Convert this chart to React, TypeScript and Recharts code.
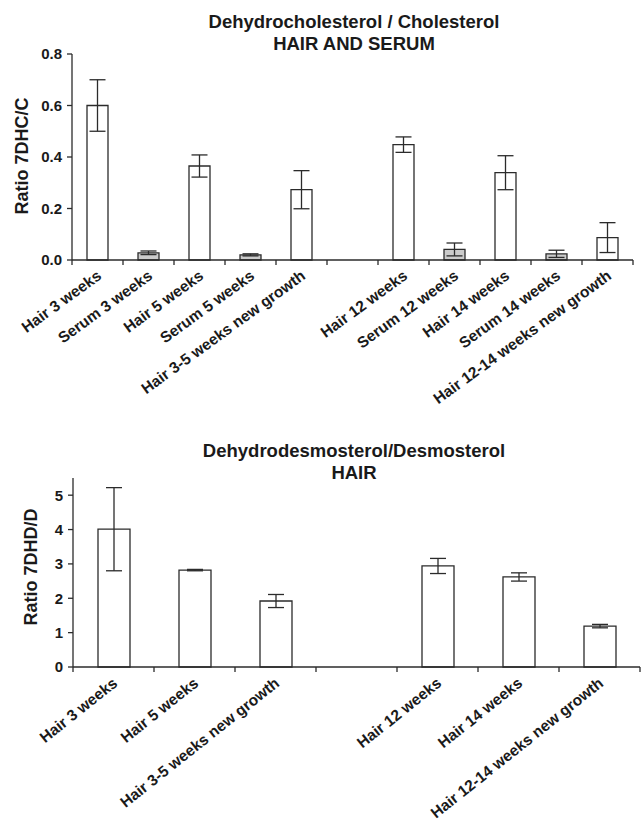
import { BarChart, Bar, XAxis, YAxis, ErrorBar, Cell } from "recharts";

const FONT = '"Liberation Sans", Arial, sans-serif';
const INK = "#2b2b2b";

// Panel 1: 7DHC / C, hair and serum (blank category = gap between time groups)
const CATS_1 = [
  "Hair 3 weeks",
  "Serum 3 weeks",
  "Hair 5 weeks",
  "Serum 5 weeks",
  "Hair 3-5 weeks new growth",
  "",
  "Hair 12 weeks",
  "Serum 12 weeks",
  "Hair 14 weeks",
  "Serum 14 weeks",
  "Hair 12-14 weeks new growth",
];
const VALUES_1 = [0.6, 0.028, 0.365, 0.02, 0.273, null, 0.448, 0.041, 0.339, 0.024, 0.087];
const ERRORS_1 = [0.1, 0.007, 0.043, 0.004, 0.074, null, 0.03, 0.025, 0.066, 0.014, 0.058];
const KINDS_1 = ["hair", "serum", "hair", "serum", "hair", "gap", "hair", "serum", "hair", "serum", "hair"];
const Y_TICKS_1 = [0, 0.2, 0.4, 0.6, 0.8];

// Panel 2: 7DHD / D, hair only
const CATS_2 = [
  "Hair 3 weeks",
  "Hair 5 weeks",
  "Hair 3-5 weeks new growth",
  "",
  "Hair 12 weeks",
  "Hair 14 weeks",
  "Hair 12-14 weeks new growth",
];
const VALUES_2 = [4.01, 2.82, 1.92, null, 2.94, 2.62, 1.19];
const ERRORS_2 = [1.21, 0.02, 0.19, null, 0.22, 0.12, 0.05];
const Y_TICKS_2 = [0, 1, 2, 3, 4, 5];

const rows1 = CATS_1.map((name, i) => ({ name, v: VALUES_1[i], e: ERRORS_1[i], kind: KINDS_1[i] }));
const rows2 = CATS_2.map((name, i) => ({ name, v: VALUES_2[i], e: ERRORS_2[i], kind: name ? "hair" : "gap" }));

const PLOT_W_1 = 561;
const PLOT_W_2 = 567;

function SlantTick(props: any) {
  const { x, y, payload, index, half, count, angle } = props;
  const tx = x + 5;
  const ty = y + 18;
  return (
    <g>
      <line x1={x - half} x2={x - half} y1={y} y2={y + 5} stroke={INK} strokeWidth={1.3} />
      {index === count - 1 && (
        <line x1={x + half} x2={x + half} y1={y} y2={y + 5} stroke={INK} strokeWidth={1.3} />
      )}
      {payload.value ? (
        <text
          x={tx}
          y={ty}
          transform={`rotate(${angle}, ${tx}, ${ty})`}
          textAnchor="end"
          fontFamily={FONT}
          fontWeight="bold"
          fontSize={15.5}
          fill="#1a1a1a"
        >
          {payload.value}
        </text>
      ) : null}
    </g>
  );
}

function AxisTitle({ cx, cy, text }: { cx: number; cy: number; text: string }) {
  return (
    <text
      x={cx}
      y={cy}
      transform={`rotate(-90, ${cx}, ${cy})`}
      textAnchor="middle"
      dominantBaseline="central"
      fontFamily={FONT}
      fontWeight="bold"
      fontSize={18}
      fill="#1a1a1a"
    >
      {text}
    </text>
  );
}

function Title({ top, lines }: { top: number; lines: string[] }) {
  return (
    <div
      style={{
        position: "absolute",
        top,
        left: 154,
        width: 400,
        textAlign: "center",
        fontFamily: FONT,
        fontWeight: "bold",
        fontSize: 18.5,
        lineHeight: "22px",
        color: "#1a1a1a",
      }}
    >
      {lines.map((l) => (
        <div key={l}>{l}</div>
      ))}
    </div>
  );
}

const tickStyle = { fontFamily: FONT, fontWeight: "bold", fontSize: 15, fill: "#1a1a1a" };

export default function App() {
  return (
    <div style={{ position: "absolute", left: 0, top: 0, width: 641, height: 825, background: "#fff" }}>
      <div style={{ position: "absolute", left: 0, top: 0 }}>
        <BarChart width={641} height={430} data={rows1} margin={{ top: 54, right: 8, left: 0, bottom: 140 }}>
          <XAxis
            dataKey="name"
            height={30}
            interval={0}
            tickSize={0}
            tickMargin={0}
            tickLine={false}
            axisLine={{ stroke: INK, strokeWidth: 1.3 }}
            tick={<SlantTick half={PLOT_W_1 / CATS_1.length / 2} count={CATS_1.length} angle={-36} />}
          />
          <YAxis
            width={72}
            domain={[0, 0.8]}
            ticks={Y_TICKS_1}
            tickFormatter={(v: number) => v.toFixed(1)}
            tickSize={5}
            tickMargin={5}
            tick={tickStyle}
            axisLine={{ stroke: INK, strokeWidth: 1.3 }}
            tickLine={{ stroke: INK, strokeWidth: 1.3 }}
            label={{ content: () => <AxisTitle cx={22} cy={156} text="Ratio 7DHC/C" /> }}
          />
          <Bar dataKey="v" barSize={21} stroke={INK} strokeWidth={1.3} isAnimationActive={false}>
            {rows1.map((r, i) => (
              <Cell key={i} fill={r.kind === "serum" ? "#cbcbcb" : "#ffffff"} />
            ))}
            <ErrorBar dataKey="e" width={8} stroke={INK} strokeWidth={1.3} direction="y" />
          </Bar>
        </BarChart>
      </div>
      <Title top={11} lines={["Dehydrocholesterol / Cholesterol", "HAIR AND SERUM"]} />

      <div style={{ position: "absolute", left: 0, top: 430 }}>
        <BarChart width={641} height={395} data={rows2} margin={{ top: 48, right: 1, left: 0, bottom: 128 }}>
          <XAxis
            dataKey="name"
            height={30}
            interval={0}
            tickSize={0}
            tickMargin={0}
            tickLine={false}
            axisLine={{ stroke: INK, strokeWidth: 1.3 }}
            tick={<SlantTick half={PLOT_W_2 / CATS_2.length / 2} count={CATS_2.length} angle={-38.5} />}
          />
          <YAxis
            width={73}
            domain={[0, 5.5]}
            ticks={Y_TICKS_2}
            tickSize={5}
            tickMargin={5}
            tick={tickStyle}
            axisLine={{ stroke: INK, strokeWidth: 1.3 }}
            tickLine={{ stroke: INK, strokeWidth: 1.3 }}
            label={{ content: () => <AxisTitle cx={31} cy={137} text="Ratio 7DHD/D" /> }}
          />
          <Bar dataKey="v" barSize={32} stroke={INK} strokeWidth={1.3} fill="#ffffff" isAnimationActive={false}>
            <ErrorBar dataKey="e" width={8} stroke={INK} strokeWidth={1.3} direction="y" />
          </Bar>
        </BarChart>
      </div>
      <Title top={440} lines={["Dehydrodesmosterol/Desmosterol", "HAIR"]} />
    </div>
  );
}
